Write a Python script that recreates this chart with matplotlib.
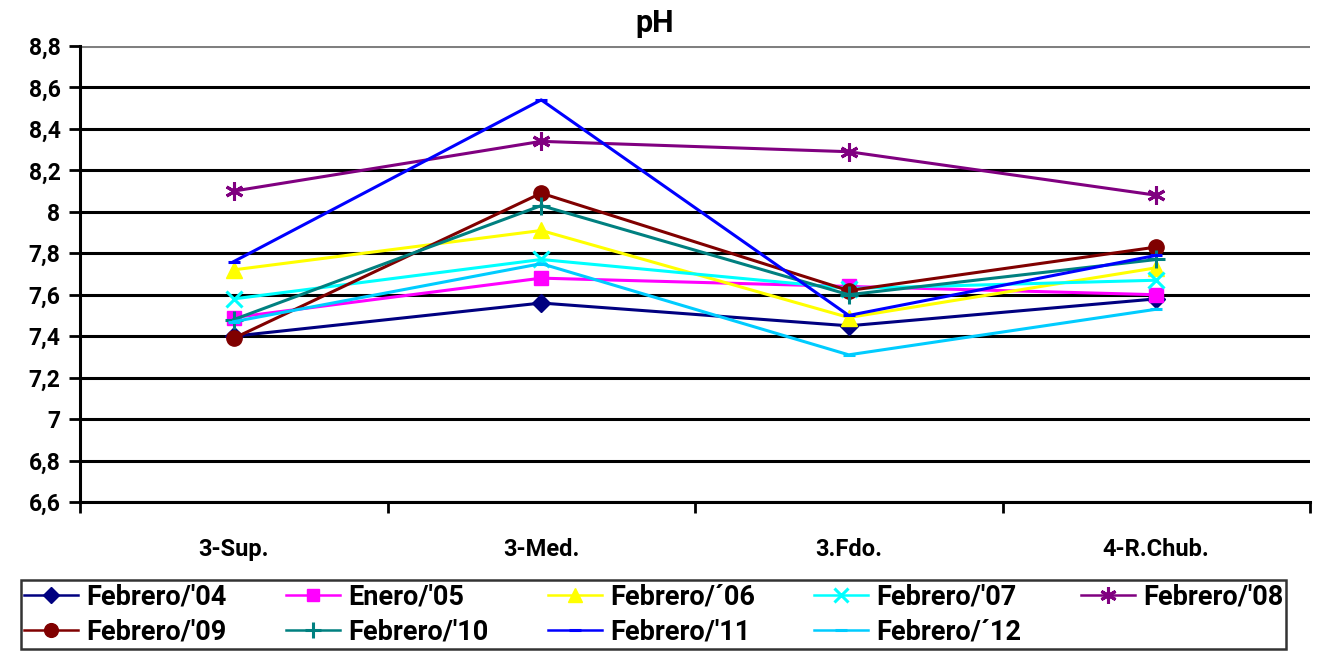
import matplotlib
matplotlib.use("Agg")
import matplotlib.pyplot as plt
from matplotlib.ticker import FixedLocator, FuncFormatter

plt.rcParams['font.family'] = ['Roboto', 'DejaVu Sans']
plt.rcParams['font.weight'] = 'bold'

categories = ["3-Sup.", "3-Med.", "3.Fdo.", "4-R.Chub."]

feb_04 = [7.40, 7.56, 7.45, 7.58]
ene_05 = [7.49, 7.68, 7.64, 7.60]
feb_06 = [7.72, 7.91, 7.49, 7.73]
feb_07 = [7.58, 7.77, 7.63, 7.67]
feb_08 = [8.10, 8.34, 8.29, 8.08]
feb_09 = [7.39, 8.09, 7.62, 7.83]
feb_10 = [7.48, 8.03, 7.60, 7.77]
feb_11 = [7.76, 8.54, 7.50, 7.79]
feb_12 = [7.47, 7.75, 7.31, 7.53]

series = [
    ("Febrero/'04", feb_04, "#000080", "D", 9),
    ("Enero/'05", ene_05, "#FF00FF", "s", 10),
    ("Febrero/\u00b406", feb_06, "#FFFF00", "^", 11),
    ("Febrero/'07", feb_07, "#00FFFF", "x", 11),
    ("Febrero/'08", feb_08, "#800080", (6, 2, 0), 13),
    ("Febrero/'09", feb_09, "#800000", "o", 11),
    ("Febrero/'10", feb_10, "#008080", "+", 13),
    ("Febrero/'11", feb_11, "#0000FF", "_", 9),
    ("Febrero/\u00b412", feb_12, "#00CCFF", "_", 9),
]

yticks = [6.6, 6.8, 7.0, 7.2, 7.4, 7.6, 7.8, 8.0, 8.2, 8.4, 8.6, 8.8]

fig = plt.figure(figsize=(13.18, 6.51), dpi=100)
ax = fig.add_axes([80 / 1318, 1 - 502 / 651, (1310 - 80) / 1318, (502 - 46) / 651])

x = list(range(len(categories)))
handles = []
for name, vals, color, marker, ms in series:
    mew = 2.2 if marker in ("x", "+", "_") or isinstance(marker, tuple) else 1
    h, = ax.plot(x, vals, color=color, lw=2.2, marker=marker, markersize=ms,
                 markeredgewidth=mew, markerfacecolor=color, markeredgecolor=color,
                 label=name, zorder=3)
    handles.append(h)

ax.set_xlim(-0.5, len(categories) - 0.5)
ax.set_ylim(6.6, 8.8)
ax.yaxis.set_major_locator(FixedLocator(yticks))
ax.yaxis.set_major_formatter(FuncFormatter(
    lambda v, p: (f"{v:.1f}".rstrip("0").rstrip(".")).replace(".", ",")))
for t in yticks:
    ax.axhline(t, color="black" if t < 8.8 else "#808080", lw=2.2, zorder=1)

ax.set_xticks(x)
ax.set_xticklabels(categories, fontsize=17, fontweight="bold")
ax.tick_params(axis="x", length=0, pad=26)
ax.set_xticks([i - 0.5 for i in range(len(categories) + 1)], minor=True)
ax.tick_params(axis="x", which="minor", length=8, width=2, direction="out")
ax.tick_params(axis="y", length=8, width=2, direction="out", labelsize=16.5, pad=6)
for lbl in ax.get_yticklabels():
    lbl.set_fontweight("bold")

for s in ("top", "right"):
    ax.spines[s].set_visible(False)
ax.spines["left"].set_linewidth(2.2)
ax.spines["bottom"].set_linewidth(2.2)

fig.text(655 / 1318, 1 - 23 / 651, "pH", ha="center", va="center",
         fontsize=22, fontweight="bold")

# legend filled row by row: 5 entries on the first row, 4 on the second
order = [0, 5, 1, 6, 2, 7, 3, 8, 4]
leg = fig.legend([handles[i] for i in order], [series[i][0] for i in order],
                 loc="upper left",
                 bbox_to_anchor=(7 / 1318, 1 - 567 / 651, 1293 / 1318, 0.001),
                 mode="expand", ncol=5, frameon=True, fancybox=False,
                 edgecolor="black", handlelength=2.0, columnspacing=1.0,
                 handletextpad=0.3, borderpad=0.12, labelspacing=0.3,
                 markerscale=0.9,
                 prop={"weight": "bold", "size": 19.5})
leg.get_frame().set_linewidth(1.8)
for line in leg.get_lines():
    line.set_linewidth(1.8)

fig.savefig("out.png", dpi=100)
